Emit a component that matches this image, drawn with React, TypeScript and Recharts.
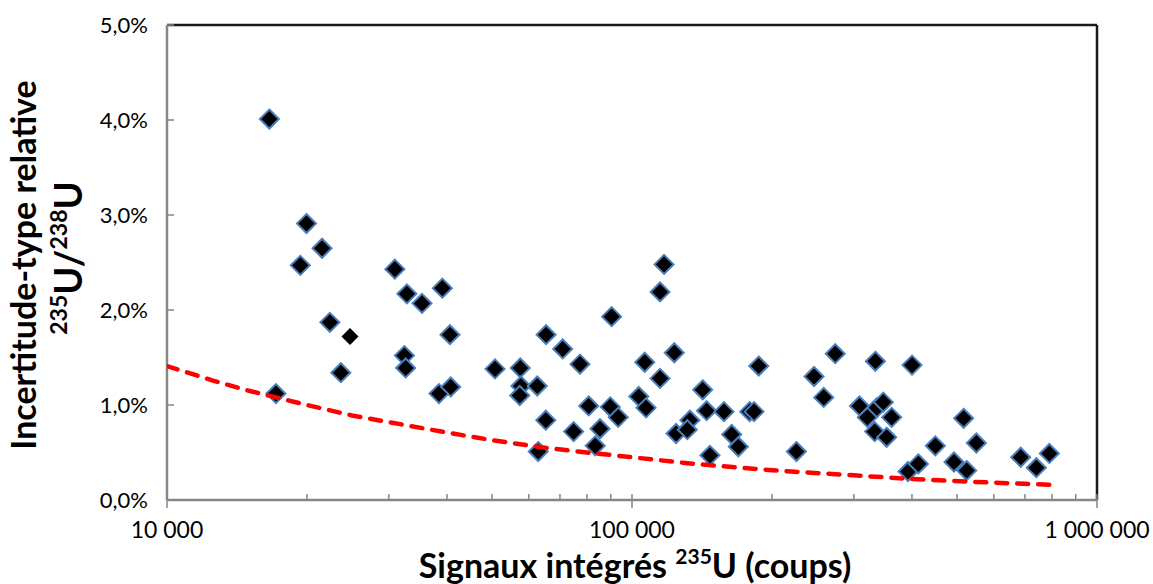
import { ScatterChart, Scatter, XAxis, YAxis, ReferenceLine } from "recharts";

// signal intégré 235U (coups) / incertitude-type relative (%)
const signals = [
  16600, 19950, 21550, 19350, 22400, 23650, 17150, 30900, 32800, 35350,
  39100, 40600, 32400, 32600, 38450, 40750, 50750, 57500, 57700, 57350,
  62550, 65350, 70950, 77300, 65250, 62850, 74900, 80700, 85350, 83350,
  90400, 89800, 93400, 117200, 114900, 123300, 106500, 114900, 103400, 107200,
  141900, 144700, 157700, 133200, 124400, 131500, 147100, 163800, 169300, 179100,
  183000, 187300, 225700, 246300, 273600, 258400, 333700, 400200, 308500, 335900,
  347100, 320700, 361800, 332600, 352900, 392300, 412900, 449100, 516700, 550200,
  492600, 524500, 685400, 740500, 789800,
];
const uncertainties = [
  4.01, 2.91, 2.65, 2.47, 1.87, 1.34, 1.12, 2.43, 2.17, 2.07,
  2.23, 1.74, 1.52, 1.39, 1.12, 1.19, 1.38, 1.39, 1.2, 1.1,
  1.2, 1.74, 1.59, 1.43, 0.84, 0.51, 0.72, 0.99, 0.75, 0.57,
  1.93, 0.98, 0.87, 2.48, 2.19, 1.55, 1.45, 1.28, 1.09, 0.97,
  1.16, 0.94, 0.93, 0.84, 0.7, 0.74, 0.47, 0.69, 0.56, 0.93,
  0.93, 1.41, 0.51, 1.3, 1.54, 1.08, 1.46, 1.42, 0.99, 0.97,
  1.03, 0.87, 0.87, 0.72, 0.66, 0.3, 0.38, 0.57, 0.86, 0.6,
  0.4, 0.31, 0.45, 0.34, 0.49,
];

// point sans bordure
const plainSignals = [24750];
const plainUncertainties = [1.72];

// courbe limite (pointillés rouges)
const limitSignals = [
  10000, 12500, 15000, 20000, 25000, 30000, 40000, 50000, 65000, 80000,
  100000, 130000, 170000, 220000, 300000, 400000, 550000, 700000, 790000,
];
const limitUncertainties = [
  1.41, 1.26, 1.15, 1.0, 0.89, 0.82, 0.71, 0.63, 0.55, 0.5,
  0.45, 0.39, 0.34, 0.3, 0.26, 0.22, 0.19, 0.17, 0.16,
];

const xTicks = [
  10000, 20000, 30000, 40000, 50000, 60000, 70000, 80000, 90000,
  100000, 200000, 300000, 400000, 500000, 600000, 700000, 800000, 900000,
  1000000,
];
const xLabels: Record<number, string> = {
  10000: "10 000",
  100000: "100 000",
  1000000: "1 000 000",
};
const yTicks = [0, 1, 2, 3, 4, 5];

const measures = signals.map((x, i) => ({ x, y: uncertainties[i] }));
const plain = plainSignals.map((x, i) => ({ x, y: plainUncertainties[i] }));
const limit = limitSignals.map((x, i) => ({ x, y: limitUncertainties[i] }));

const FONT = "Lato, 'Open Sans', sans-serif";
const AXIS = "#868686";

const Diamond = ({ cx, cy, r = 9.5, stroke }: any) => (
  <polygon
    points={`${cx},${cy - r} ${cx + r},${cy} ${cx},${cy + r} ${cx - r},${cy}`}
    fill="#000"
    stroke={stroke}
    strokeWidth={stroke ? 2 : 0}
  />
);

const XTick = ({ x, y, payload }: any) => {
  const label = xLabels[payload.value];
  return (
    <g>
      <line x1={x} x2={x} y1={y - 6} y2={label ? y + 8 : y} stroke={AXIS} strokeWidth={1.5} />
      {label && (
        <text x={x} y={y + 38} textAnchor="middle" fontSize={23} fontFamily={FONT} fill="#000">
          {label}
        </text>
      )}
    </g>
  );
};

const YTick = ({ x, y, payload }: any) => (
  <g>
    <line x1={x} x2={x + 7} y1={y} y2={y} stroke={AXIS} strokeWidth={1.5} />
    <text x={x - 19} y={y + 8} textAnchor="end" fontSize={22} fontFamily={FONT} fill="#000">
      {payload.value.toFixed(1).replace(".", ",") + "%"}
    </text>
  </g>
);

const XTitle = () => (
  <text x={635} y={578} textAnchor="middle" fontSize={34} fontWeight="bold" fontFamily={FONT} fill="#000">
    Signaux intégrés{" "}
    <tspan fontSize={21} dy={-14}>235</tspan>
    <tspan dy={14}>U (coups)</tspan>
  </text>
);

const YTitle = () => (
  <g>
    <text
      x={36}
      y={265}
      transform="rotate(-90 36 265)"
      textAnchor="middle"
      fontSize={34}
      fontWeight="bold"
      fontFamily={FONT}
      fill="#000"
    >
      Incertitude-type relative
    </text>
    <text
      x={258}
      y={82}
      transform="rotate(-90 258 258)"
      textAnchor="middle"
      fontSize={38}
      fontWeight="bold"
      fontFamily={FONT}
      fill="#000"
    >
      <tspan fontSize={23} dy={-15}>235</tspan>
      <tspan dy={15}>U/</tspan>
      <tspan fontSize={23} dy={-15}>238</tspan>
      <tspan dy={15}>U</tspan>
    </text>
  </g>
);

export default function App() {
  return (
    <div style={{ position: "absolute", left: 0, top: 0, width: 1153, height: 584, background: "#fff" }}>
      <ScatterChart width={1153} height={584} margin={{ top: 25, right: 56, bottom: 0, left: 0 }}>
        <XAxis
          type="number"
          dataKey="x"
          scale="log"
          domain={[10000, 1000000]}
          allowDataOverflow
          ticks={xTicks}
          interval={0}
          height={84}
          tickSize={0}
          tickMargin={0}
          tickLine={false}
          tick={<XTick />}
          axisLine={{ stroke: AXIS, strokeWidth: 2.5 }}
          label={<XTitle />}
        />
        <YAxis
          type="number"
          dataKey="y"
          domain={[0, 5]}
          ticks={yTicks}
          interval={0}
          width={167}
          tickSize={0}
          tickMargin={0}
          tickLine={false}
          tick={<YTick />}
          axisLine={{ stroke: AXIS, strokeWidth: 2.5 }}
          label={<YTitle />}
        />
        <ReferenceLine y={5} stroke="#1a1a1a" strokeWidth={2.5} />
        <ReferenceLine x={1000000} stroke="#1a1a1a" strokeWidth={2.5} />
        <Scatter
          data={measures}
          isAnimationActive={false}
          shape={(p: any) => <Diamond cx={p.cx} cy={p.cy} stroke="#4A7EBB" />}
        />
        <Scatter
          data={plain}
          isAnimationActive={false}
          shape={(p: any) => <Diamond cx={p.cx} cy={p.cy} r={8.5} />}
        />
        <Scatter
          data={limit}
          isAnimationActive={false}
          line={{ stroke: "#FF0000", strokeWidth: 4.5, strokeDasharray: "11 10", strokeLinecap: "round" }}
          lineType="joint"
          shape={() => <g />}
        />
      </ScatterChart>
    </div>
  );
}
